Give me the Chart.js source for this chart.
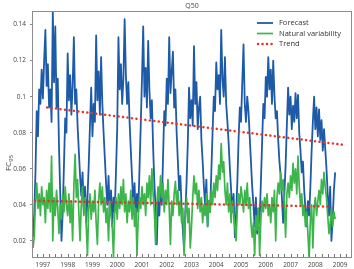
<!DOCTYPE html>
<html>
<head>
<meta charset="utf-8">
<script src="https://cdn.jsdelivr.net/npm/chart.js@4.4.1/dist/chart.umd.min.js"></script>
<style>
  html, body { margin: 0; padding: 0; background: #fff; }
  canvas { display: block; }
</style>
</head>
<body>
<canvas id="chart" width="354" height="269"></canvas>
<script>
// series are sampled 20 times a year, starting mid 1996
const sampleStart = 1996.6;
const samplesPerYear = 20;

// FC95 values in thousandths (137 -> 0.137)
const forecastMilli = [
  22, 35, 58, 92, 78, 104, 96, 115, 99, 120, 137, 106, 118, 94, 104, 86, 147, 108, 139, 94,
  110, 72, 46, 20, 36, 62, 88, 80, 124, 98, 112, 90, 106, 133, 96, 104, 84, 70, 56, 45,
  58, 38, 50, 30, 44, 62, 84, 105, 78, 96, 86, 134, 98, 114, 90, 122, 96, 80, 66, 52,
  40, 56, 34, 48, 28, 44, 36, 58, 82, 133, 104, 118, 96, 110, 143, 112, 96, 108, 86, 70,
  55, 40, 52, 32, 46, 36, 60, 84, 110, 139, 100, 116, 94, 131, 104, 88, 98, 72, 52, 38,
  18, 44, 34, 50, 40, 66, 92, 84, 110, 96, 133, 102, 114, 125, 94, 104, 80, 64, 48, 56,
  38, 26, 15, 36, 52, 74, 105, 88, 98, 84, 128, 96, 108, 82, 94, 100, 76, 64, 50, 40,
  54, 28, 42, 36, 58, 80, 100, 92, 119, 104, 112, 96, 137, 110, 100, 122, 96, 86, 74, 60,
  48, 36, 46, 22, 34, 52, 76, 94, 86, 108, 129, 96, 86, 100, 92, 78, 64, 50, 40, 28,
  44, 24, 38, 30, 52, 74, 96, 88, 111, 100, 122, 104, 115, 96, 120, 100, 88, 92, 76, 64,
  56, 44, 30, 46, 62, 84, 105, 90, 100, 82, 95, 86, 102, 88, 101, 80, 70, 58, 64, 48,
  38, 28, 42, 34, 50, 70, 86, 100, 82, 94, 78, 93, 76, 87, 70, 82, 71, 60, 46, 34,
  50, 20, 32, 48, 58
];

const naturalMilli = [
  16, 22, 42, 52, 38, 46, 34, 50, 40, 44, 30, 48, 38, 52, 36, 67, 20, 44, 34, 48,
  38, 24, 40, 32, 46, 36, 50, 40, 34, 46, 30, 42, 20, 50, 68, 44, 54, 36, 20, 40,
  50, 34, 44, 28, 12, 38, 46, 32, 42, 36, 48, 30, 18, 42, 52, 40, 50, 36, 44, 30,
  38, 20, 42, 34, 28, 11, 36, 44, 32, 46, 38, 50, 40, 54, 36, 46, 30, 42, 36, 48,
  32, 44, 28, 38, 12, 34, 44, 38, 50, 40, 46, 34, 52, 44, 56, 40, 60, 46, 36, 18,
  40, 50, 42, 56, 44, 52, 36, 48, 40, 54, 38, 18, 42, 34, 46, 53, 40, 48, 34, 42,
  30, 38, 12, 34, 44, 30, 38, 16, 28, 44, 56, 46, 52, 38, 48, 36, 44, 30, 40, 34,
  46, 28, 42, 36, 48, 40, 52, 44, 56, 48, 62, 54, 74, 58, 64, 48, 40, 52, 36, 46,
  30, 42, 36, 28, 20, 38, 46, 40, 50, 44, 36, 48, 40, 52, 38, 44, 30, 22, 30, 12,
  34, 26, 38, 12, 32, 42, 36, 44, 38, 46, 34, 40, 30, 44, 36, 48, 20, 44, 52, 46,
  58, 48, 54, 40, 22, 46, 52, 44, 56, 48, 63, 52, 60, 46, 67, 50, 40, 46, 34, 40,
  28, 36, 24, 10, 32, 40, 16, 38, 44, 34, 42, 48, 40, 54, 46, 58, 50, 44, 34, 24,
  30, 38, 28, 36, 32
];

// linear trends, start and end points
const trendForecastYears = [1997.17, 2009.12];
const trendForecastValues = [0.094, 0.0733];
const trendNaturalYears = [1996.68, 2008.59];
const trendNaturalValues = [0.0422, 0.039];

const BLUE = '#1d5aa8';
const GREEN = '#3cb54b';
const RED = '#e5362c';
const FONT = '"Open Sans", sans-serif';

function toPoints(values, scale) {
  return values.map((v, i) => ({ x: sampleStart + i / samplesPerYear, y: v / scale }));
}

function pairPoints(xs, ys) {
  return xs.map((x, i) => ({ x: x, y: ys[i] }));
}

const decorations = {
  id: 'decorations',
  afterDatasetsDraw(chart) {
    const { ctx, chartArea: a } = chart;
    const x = chart.scales.x;
    ctx.save();

    // small quarterly ticks pointing into the plot
    ctx.strokeStyle = '#777';
    ctx.lineWidth = 1;
    ctx.beginPath();
    for (let q = Math.ceil(x.min * 4); q <= Math.floor(x.max * 4); q++) {
      const px = Math.round(x.getPixelForValue(q / 4)) + 0.5;
      ctx.moveTo(px, a.bottom);
      ctx.lineTo(px, a.bottom - 3);
    }
    ctx.stroke();

    // box round the plot
    ctx.strokeStyle = '#8c8c8c';
    ctx.strokeRect(a.left - 0.5, a.top - 0.5, a.right - a.left + 1, a.bottom - a.top + 1);

    // legend in the top right corner
    const sets = chart.data.datasets.slice(0, 3);
    ctx.font = '7.5px ' + FONT;
    ctx.textBaseline = 'middle';
    ctx.textAlign = 'left';
    sets.forEach((ds, k) => {
      const y = a.top + 11 + k * 10.5;
      const x0 = a.right - 94;
      ctx.beginPath();
      ctx.strokeStyle = ds.borderColor;
      ctx.lineWidth = ds.borderWidth;
      ctx.lineCap = ds.borderCapStyle || 'butt';
      ctx.setLineDash(ds.borderDash || []);
      ctx.moveTo(x0 + (ds.borderDash ? 1 : 0), y);
      ctx.lineTo(x0 + 16, y);
      ctx.stroke();
      ctx.setLineDash([]);
      ctx.fillStyle = '#333';
      ctx.fillText(ds.label, x0 + 22, y);
    });

    // title
    ctx.font = '7px ' + FONT;
    ctx.fillStyle = '#444';
    ctx.textAlign = 'center';
    ctx.fillText('Q50', (a.left + a.right) / 2, a.top - 6.5);

    // y axis title, FC with subscript 95
    ctx.translate(8.5, 163);
    ctx.rotate(-Math.PI / 2);
    ctx.textAlign = 'left';
    ctx.font = '8px ' + FONT;
    const wMain = ctx.measureText('FC').width;
    ctx.font = '6px ' + FONT;
    const wSub = ctx.measureText('95').width;
    const u0 = -(wMain + wSub) / 2;
    ctx.font = '8px ' + FONT;
    ctx.fillText('FC', u0, 0);
    ctx.font = '6px ' + FONT;
    ctx.fillText('95', u0 + wMain, 2.5);
    ctx.restore();
  }
};

Chart.defaults.font.family = FONT;

new Chart(document.getElementById('chart'), {
  type: 'line',
  data: {
    datasets: [
      { label: 'Forecast', data: toPoints(forecastMilli, 1000), borderColor: BLUE, borderWidth: 1.8,
        borderJoinStyle: 'round', order: 3 },
      { label: 'Natural variability', data: toPoints(naturalMilli, 1000), borderColor: GREEN, borderWidth: 1.7,
        borderJoinStyle: 'round', order: 2 },
      { label: 'Trend', data: pairPoints(trendForecastYears, trendForecastValues), borderColor: RED,
        borderWidth: 2.5, borderDash: [0.1, 4.4], borderCapStyle: 'round', order: 1 },
      { label: 'Trend natural', data: pairPoints(trendNaturalYears, trendNaturalValues), borderColor: RED,
        borderWidth: 2.5, borderDash: [0.1, 4.4], borderCapStyle: 'round', order: 1 }
    ]
  },
  options: {
    responsive: false,
    animation: false,
    devicePixelRatio: 1,
    layout: { padding: { top: 12, right: 3, left: 0, bottom: 0 } },
    elements: { point: { radius: 0 }, line: { tension: 0, fill: false } },
    plugins: { legend: { display: false }, tooltip: { enabled: false }, title: { display: false } },
    scales: {
      x: {
        type: 'linear',
        min: 1996.6,
        max: 2009.44,
        afterFit: s => { s.height = 12; },
        grid: { display: false, drawTicks: false, tickLength: 0 },
        border: { display: false },
        ticks: {
          stepSize: 1,
          includeBounds: false,
          autoSkip: false,
          maxRotation: 0,
          padding: 4,
          color: '#444',
          font: { size: 6.5 },
          callback: v => String(v)
        }
      },
      y: {
        min: 0.011,
        max: 0.147,
        afterFit: s => { s.width = 33; },
        grid: { drawOnChartArea: false, tickLength: 3, color: '#888' },
        border: { display: false },
        ticks: {
          stepSize: 0.02,
          includeBounds: false,
          padding: 4,
          color: '#444',
          font: { size: 6.5 },
          callback: v => String(Math.round(v * 100) / 100)
        }
      }
    }
  },
  plugins: [decorations]
});
</script>
</body>
</html>
